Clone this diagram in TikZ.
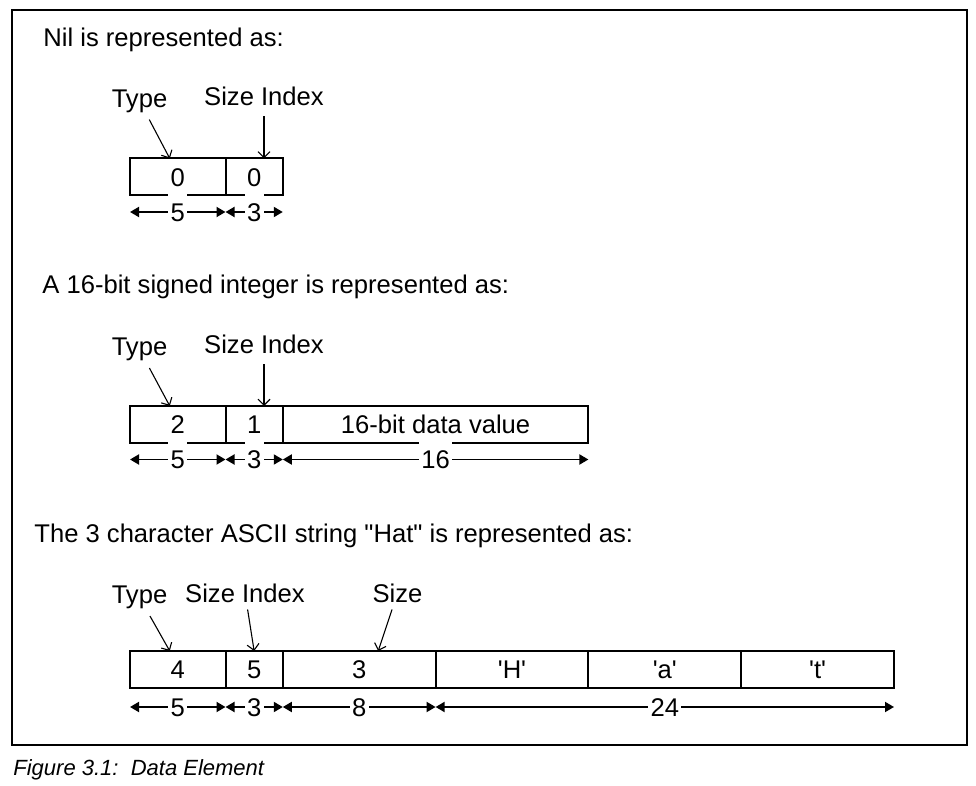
\documentclass[tikz,border=0pt]{standalone}
\usepackage{fontspec}
\setmainfont{Liberation Sans}
\usetikzlibrary{positioning,arrows.meta}
\newcommand{\sq}{\textquotesingle}
\newcommand{\dq}{\textquotedbl}
\begin{document}
\begin{tikzpicture}[
    x=0.5pt, y=-0.5pt,
    every node/.style={font=\fontsize{12.8}{15}\selectfont},
    title/.style={anchor=base west, inner sep=0pt},
    field/.style={draw, line width=1pt, outer sep=0pt, inner sep=0pt,
                  minimum height=18.5pt, text height=9.2pt, text depth=0pt},
    bits/.style={minimum width=#1*9.55pt},
    dim/.style={line width=0.9pt,
                {Triangle[length=4.5pt,width=5pt]}-{Triangle[length=4.5pt,width=5pt]}},
    dimlbl/.style={fill=white, inner xsep=1.2pt, inner ysep=4.2pt,
                   text height=9.2pt, text depth=0pt},
    ptr/.style={line width=0.55pt, -{Straight Barb[length=3pt,width=6pt]}},
  ]
  \useasboundingbox (0,0) rectangle (976,786);
  \draw[line width=0.75pt] (12,10) rectangle (967,745);

  % Nil
  \node[title] (nilTitle) at (43,47) {Nil is represented as:};
  \node[field, bits=5, anchor=north west] (nType) at (130,158.5) {0};
  \node[field, bits=3, right=0pt of nType] (nIdx) {0};
  \node (nTypeLbl) at (139.5,101) {Type};
  \node (nIdxLbl) at (264,96) {Size Index};
  \draw[ptr] (nTypeLbl) -- ([xshift=-4pt]nType.north);
  \draw[ptr, shorten <=2pt] (nIdxLbl) -- (nIdxLbl |- nIdx.north);
  \draw[dim] ([yshift=-8.25pt]nType.south west) -- node[dimlbl]{5} ([yshift=-8.25pt]nType.south east);
  \draw[dim] ([yshift=-8.25pt]nIdx.south west) -- node[dimlbl]{3} ([yshift=-8.25pt]nIdx.south east);

  % 16-bit integer
  \node[title] (intTitle) at (42,294) {A 16-bit signed integer is represented as:};
  \node[field, bits=5, anchor=north west] (iType) at (130,406) {2};
  \node[field, bits=3, right=0pt of iType] (iIdx) {1};
  \node[field, bits=16, right=0pt of iIdx] (iData) {16-bit data value};
  \node (iTypeLbl) at (139.5,349.5) {Type};
  \node (iIdxLbl) at (264,344) {Size Index};
  \draw[ptr] (iTypeLbl) -- ([xshift=-4pt]iType.north);
  \draw[ptr, shorten <=2pt] (iIdxLbl) -- (iIdxLbl |- iIdx.north);
  \draw[dim] ([yshift=-8.25pt]iType.south west) -- node[dimlbl]{5} ([yshift=-8.25pt]iType.south east);
  \draw[dim] ([yshift=-8.25pt]iIdx.south west) -- node[dimlbl]{3} ([yshift=-8.25pt]iIdx.south east);
  \draw[dim] ([yshift=-8.25pt]iData.south west) -- node[dimlbl]{16} ([yshift=-8.25pt]iData.south east);

  % ASCII string
  \node[title] (strTitle) at (34,542.5) {The 3 character ASCII string \dq Hat\dq{} is represented as:};
  \node[field, bits=5, anchor=north west] (sType) at (130,651) {4};
  \node[field, bits=3, right=0pt of sType] (sIdx) {5};
  \node[field, bits=8, right=0pt of sIdx] (sSize) {3};
  \node[field, bits=8, right=0pt of sSize] (sH) {\sq H\sq};
  \node[field, bits=8, right=0pt of sH] (sA) {\sq a\sq};
  \node[field, bits=8, right=0pt of sA] (sT) {\sq t\sq};
  \node (sTypeLbl) at (139.5,597.5) {Type};
  \node (sIdxLbl) at (245,593) {Size Index};
  \node (sSizeLbl) at (397.5,593) {Size};
  \draw[ptr] (sTypeLbl) -- ([xshift=-4pt]sType.north);
  \draw[ptr] (sIdxLbl) -- (sIdx.north);
  \draw[ptr] (sSizeLbl) -- ([xshift=9.5pt]sSize.north);
  \draw[dim] ([yshift=-9.5pt]sType.south west) -- node[dimlbl]{5} ([yshift=-9.5pt]sType.south east);
  \draw[dim] ([yshift=-9.5pt]sIdx.south west) -- node[dimlbl]{3} ([yshift=-9.5pt]sIdx.south east);
  \draw[dim] ([yshift=-9.5pt]sSize.south west) -- node[dimlbl]{8} ([yshift=-9.5pt]sSize.south east);
  \draw[dim] ([yshift=-9.5pt]sH.south west) -- node[dimlbl]{24} ([yshift=-9.5pt]sT.south east);

  \node[title, font=\fontsize{11}{13}\selectfont\itshape] (caption) at (13,775) {Figure 3.1:\ \ Data Element};
\end{tikzpicture}
\end{document}
